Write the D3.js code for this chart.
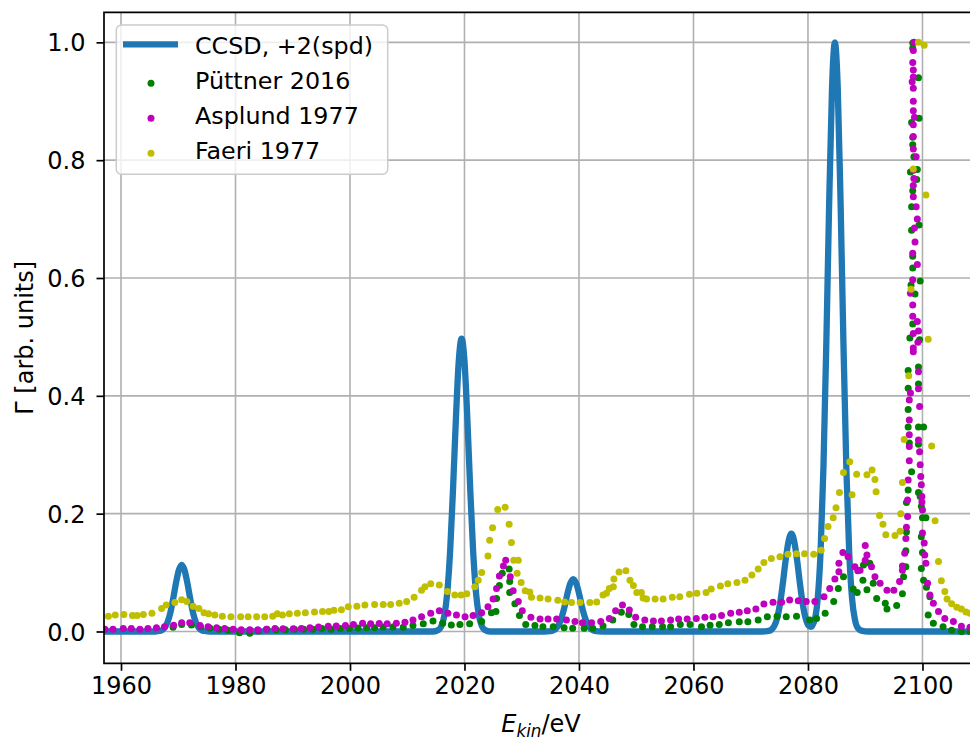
<!DOCTYPE html>
<html>
<head>
<meta charset="utf-8">
<script src="https://cdn.jsdelivr.net/npm/d3@7"></script>
<style>
  body { margin: 0; background: #fff; }
  svg text { font-family: "DejaVu Sans", sans-serif; }
</style>
</head>
<body>
<svg width="970" height="740"></svg>
<script>
// CCSD curve
const ccsdX = [1957, 1966, 1966.6, 1967.1, 1967.6, 1968.1, 1968.6, 1969.1, 1969.6, 1970.1, 1970.6, 1971.1, 1971.6, 1972.1, 1972.6, 1973.1, 1973.6, 1974.1, 1974.6, 1975.5,
  2014.5, 2015.5, 2016, 2016.5, 2017, 2017.5, 2018, 2018.5, 2019, 2019.5, 2020, 2020.5, 2021, 2021.5, 2022, 2022.5, 2023, 2023.5, 2024.5,
  2034, 2035, 2035.5, 2036, 2036.5, 2037, 2037.5, 2038, 2038.5, 2039, 2039.5, 2040, 2040.5, 2041, 2041.5, 2042, 2042.5, 2043, 2044,
  2072, 2073.1, 2073.6, 2074.1, 2074.6, 2075.1, 2075.6, 2076.1, 2076.6, 2077.1, 2077.6, 2078.1, 2078.6, 2079.1, 2079.6, 2080.1, 2080.5,
  2081.2, 2081.7, 2082.2, 2082.7, 2083.2, 2083.7, 2084.2, 2084.7, 2085.2, 2085.7, 2086.2, 2086.7, 2087.2, 2087.7, 2088.2, 2088.7, 2089.5, 2090.5, 2112];
const ccsdY = [0, 0, 0.001, 0.002, 0.006, 0.015, 0.031, 0.055, 0.082, 0.104, 0.113, 0.104, 0.082, 0.055, 0.031, 0.015, 0.006, 0.002, 0.001, 0,
  0, 0.003, 0.010, 0.028, 0.067, 0.138, 0.242, 0.361, 0.459, 0.497, 0.459, 0.361, 0.242, 0.138, 0.067, 0.028, 0.010, 0.003, 0,
  0, 0.0005, 0.002, 0.005, 0.012, 0.025, 0.043, 0.065, 0.082, 0.089, 0.082, 0.065, 0.043, 0.025, 0.012, 0.005, 0.002, 0.0005, 0,
  0, 0.001, 0.003, 0.009, 0.022, 0.046, 0.081, 0.121, 0.153, 0.166, 0.153, 0.121, 0.081, 0.046, 0.022, 0.010, 0.008,
  0.021, 0.056, 0.135, 0.278, 0.487, 0.726, 0.923, 1.0, 0.923, 0.726, 0.487, 0.278, 0.135, 0.056, 0.020, 0.006, 0.001, 0, 0];

const puttner = [[1969.1,0.007],[1970.6,0.012],[1972.3,0.011],[1973.9,0.008],[1975.5,0.006],[1977.1,0.004],[1978.7,0.002],[1980.7,-0.002],[1982.5,-0.003],[1984.0,0.001],
  [1985.5,0.004],[1987.1,0.003],[1988.7,0.003],[1990.3,0.004],[1991.9,0.004],[1993.5,0.004],[1995.1,0.005],[1996.7,0.004],[1998.3,0.005],[1999.9,0.005],
  [2001.4,0.006],[2002.9,0.0065],[2004.3,0.0065],[2005.8,0.0076],[2007.5,0.0076],[2009.3,0.007],[2011.0,0.010],[2012.8,0.013],[2014.5,0.018],[2016.2,0.014],
  [2017.7,0.011],[2019.2,0.012],[2020.9,0.013],[2023.0,0.017],[2024.7,0.032],[2025.5,0.034],[2025.6,0.056],[2026.1,0.078],[2026.6,0.099],[2027.8,0.106],
  [2027.9,0.085],[2027.9,0.066],[2028.8,0.047],[2029.6,0.027],[2030.7,0.012],[2032.3,0.010],[2033.7,0.008],[2035.5,0.008],[2037.4,0.0065],[2038.9,0.0054],
  [2040.9,0.0054],[2042.4,0.0054],[2044.2,0.0093],[2045.9,0.0195],[2047.4,0.0326],[2048.7,0.029],[2049.6,0.012],[2051.1,0.008],[2052.8,0.008],[2054.6,0.008],
  [2056.0,0.008],[2057.7,0.012],[2059.4,0.012],[2061.4,0.008],[2062.9,0.0105],[2064.5,0.012],[2066.1,0.015],[2068.0,0.0167],[2069.5,0.0167],[2071.3,0.0195],
  [2072.9,0.025],[2074.6,0.026],[2076.2,0.025],[2078.0,0.026],[2080.3,0.0195],[2081.5,0.022],[2083.0,0.031],[2084.5,0.051],[2085.3,0.073],[2086.2,0.093],
  [2087.9,0.072],[2088.6,0.066],[2089.6,0.087],[2089.7,0.113],[2090.3,0.071],[2090.8,0.116],[2091.4,0.082],[2092.0,0.056],[2093.5,0.048],[2093.8,0.038],
  [2095.5,0.044],[2096.5,0.064],[2096.7,0.093],[2097.1,0.110],[2097.1,0.137],[2097.2,0.169],[2097.2,0.219],[2097.5,0.240],[2098.1,0.271],[2097.7,0.320],
  [2097.5,0.347],[2097.5,0.377],[2097.5,0.413],[2097.5,0.443],[2097.8,0.498],[2098.3,0.522],[2098.7,0.573],[2098.0,0.588],[2098.3,0.617],[2098.3,0.637],
  [2098.1,0.681],[2098.1,0.721],[2098.3,0.748],[2097.9,0.780],[2098.5,0.806],[2098.3,0.826],[2098.3,0.839],[2098.1,0.864],[2098.3,0.990],[2098.3,0.999],
  [2099.3,0.940],[2099.4,0.871],[2099.1,0.784],[2099.0,0.767],[2099.4,0.690],[2099.6,0.595],[2099.5,0.495],[2099.3,0.449],[2099.3,0.420],[2099.3,0.347],
  [2100.2,0.347],[2099.3,0.318],[2099.3,0.236],[2099.6,0.229],[2099.8,0.212],[2100.0,0.193],[2100.6,0.193],[2099.8,0.161],[2100.0,0.134],[2099.8,0.107],
  [2100.2,0.087],[2100.7,0.075],[2101.3,0.059],[2101.0,0.028],[2101.9,0.014],[2103.6,0.008],[2105.1,0.002],[2106.8,0.0],[2108.3,0.0]];

const asplund = [[1957.2,0.004],[1958.6,0.004],[1960.4,0.005],[1961.8,0.005],[1963.3,0.004],[1964.7,0.005],[1966.2,0.0065],[1967.6,0.008],[1969.2,0.0105],[1970.6,0.015],
  [1972.0,0.015],[1973.8,0.010],[1975.2,0.008],[1976.7,0.0065],[1978.1,0.005],[1979.6,0.004],[1981.0,0.003],[1982.5,0.003],[1983.9,0.003],[1985.4,0.004],
  [1986.9,0.005],[1988.3,0.0045],[1990.1,0.0045],[1991.5,0.005],[1993.0,0.0065],[1994.5,0.0076],[1996.2,0.009],[1997.6,0.0095],[1999.2,0.010],[2000.6,0.012],
  [2002.2,0.014],[2003.6,0.013],[2005.1,0.0135],[2006.5,0.013],[2008.1,0.014],[2009.6,0.0156],[2011.0,0.0195],[2012.5,0.025],[2014.1,0.031],[2015.6,0.035],
  [2017.1,0.031],[2018.6,0.028],[2020.1,0.025],[2021.5,0.027],[2023.0,0.032],[2024.1,0.042],[2025.0,0.055],[2025.6,0.073],[2026.1,0.094],[2026.8,0.111],
  [2027.2,0.121],[2028.0,0.093],[2028.5,0.069],[2029.4,0.051],[2030.1,0.035],[2031.6,0.024],[2033.2,0.021],[2034.6,0.021],[2036.1,0.021],[2037.8,0.0195],
  [2039.3,0.017],[2040.6,0.015],[2042.2,0.015],[2043.8,0.017],[2045.3,0.022],[2046.4,0.035],[2047.6,0.045],[2048.8,0.0365],[2049.9,0.024],[2051.5,0.0195],
  [2053.0,0.018],[2054.4,0.018],[2056.0,0.0195],[2057.4,0.021],[2058.9,0.021],[2060.5,0.022],[2062.0,0.024],[2063.4,0.025],[2064.9,0.027],[2066.5,0.031],
  [2068.0,0.0326],[2069.4,0.035],[2070.9,0.038],[2072.3,0.0467],[2073.9,0.0495],[2075.4,0.0495],[2076.8,0.0535],[2078.3,0.052],[2079.7,0.051],[2081.2,0.051],
  [2082.8,0.059],[2083.8,0.073],[2084.7,0.089],[2085.4,0.1015],[2085.4,0.116],[2086.1,0.134],[2087.0,0.127],[2088.2,0.110],[2088.7,0.103],[2089.1,0.104],
  [2090.0,0.121],[2090.0,0.146],[2090.3,0.130],[2091.1,0.110],[2091.7,0.093],[2092.6,0.082],[2093.8,0.070],[2095.0,0.070],[2096.0,0.085],[2096.5,0.104],
  [2096.5,0.111],[2096.9,0.133],[2097.1,0.158],[2097.2,0.177],[2097.4,0.195],[2097.4,0.223],[2097.5,0.257],[2097.7,0.290],[2097.7,0.314],[2097.7,0.334],
  [2097.7,0.359],[2097.7,0.393],[2097.9,0.405],[2098.4,0.475],[2098.4,0.481],[2099.2,0.491],[2098.4,0.506],[2099.3,0.510],[2099.1,0.526],[2098.3,0.535],
  [2098.3,0.554],[2097.9,0.574],[2098.3,0.597],[2099.1,0.623],[2098.3,0.642],[2098.7,0.661],[2098.6,0.685],[2099.1,0.700],[2098.9,0.721],[2098.4,0.738],
  [2098.4,0.757],[2098.5,0.769],[2098.4,0.783],[2098.9,0.806],[2098.4,0.819],[2098.4,0.840],[2098.4,0.860],[2098.6,0.873],[2098.4,0.884],[2098.4,0.900],
  [2098.4,0.922],[2098.2,0.933],[2098.4,0.941],[2098.4,0.953],[2098.3,0.966],[2098.4,0.986],[2098.5,1.0],[2099.3,0.441],[2099.3,0.412],[2099.5,0.382],
  [2099.3,0.325],[2099.5,0.305],[2099.6,0.283],[2099.7,0.263],[2099.8,0.249],[2099.9,0.229],[2099.9,0.220],[2100.0,0.206],[2100.0,0.167],[2100.3,0.150],
  [2100.4,0.130],[2100.6,0.116],[2100.9,0.082],[2101.3,0.062],[2101.9,0.048],[2102.8,0.034],[2103.9,0.022],[2105.4,0.017],[2106.8,0.009],[2108.3,0.007]];

const faeri = [[1957.8,0.026],[1959.0,0.028],[1960.5,0.029],[1962.0,0.027],[1962.8,0.027],[1963.9,0.029],[1965.4,0.031],[1967.1,0.039],[1967.9,0.045],[1969.4,0.049],
  [1970.6,0.054],[1971.5,0.051],[1972.6,0.043],[1973.6,0.039],[1974.5,0.032],[1975.3,0.030],[1976.4,0.028],[1977.7,0.026],[1979.2,0.025],[1980.9,0.025],
  [1982.2,0.025],[1983.7,0.025],[1985.1,0.025],[1986.5,0.026],[1987.3,0.030],[1988.2,0.028],[1989.4,0.030],[1990.8,0.031],[1992.2,0.032],[1993.8,0.033],
  [1995.2,0.034],[1996.3,0.034],[1997.2,0.036],[1998.5,0.037],[1999.7,0.042],[2001.2,0.043],[2002.6,0.045],[2004.3,0.046],[2005.8,0.046],[2007.1,0.046],
  [2008.6,0.048],[2009.9,0.051],[2011.2,0.058],[2012.5,0.070],[2013.1,0.076],[2014.1,0.081],[2015.6,0.079],[2017.0,0.068],[2018.3,0.062],[2019.4,0.062],
  [2020.4,0.064],[2021.8,0.076],[2022.4,0.087],[2023.0,0.100],[2024.1,0.128],[2024.4,0.155],[2024.9,0.176],[2025.8,0.207],[2027.1,0.211],[2027.8,0.182],
  [2028.2,0.151],[2028.6,0.121],[2029.4,0.121],[2029.2,0.099],[2029.9,0.083],[2030.6,0.069],[2031.4,0.067],[2031.7,0.058],[2033.2,0.057],[2034.6,0.055],
  [2036.3,0.053],[2037.5,0.050],[2038.7,0.049],[2040.2,0.049],[2041.9,0.049],[2043.1,0.050],[2044.2,0.062],[2044.8,0.065],[2045.3,0.073],[2046.0,0.076],
  [2046.1,0.089],[2047.0,0.101],[2048.2,0.103],[2048.9,0.087],[2049.5,0.078],[2050.1,0.066],[2050.9,0.066],[2051.2,0.057],[2051.8,0.055],[2053.3,0.055],
  [2054.7,0.055],[2056.3,0.058],[2057.6,0.059],[2059.3,0.063],[2060.6,0.065],[2062.2,0.066],[2063.1,0.072],[2064.7,0.077],[2066.0,0.081],[2067.6,0.083],
  [2069.0,0.087],[2070.2,0.096],[2071.3,0.106],[2072.3,0.117],[2073.6,0.124],[2075.1,0.127],[2076.5,0.131],[2078.0,0.132],[2079.4,0.132],[2081.0,0.131],
  [2082.3,0.138],[2082.9,0.158],[2083.5,0.178],[2084.4,0.193],[2084.9,0.210],[2085.5,0.236],[2086.2,0.270],[2087.3,0.288],[2087.7,0.232],[2088.5,0.267],
  [2090.3,0.266],[2091.2,0.274],[2091.7,0.258],[2091.9,0.237],[2092.5,0.197],[2093.1,0.182],[2093.6,0.164],[2095.2,0.163],[2096.1,0.170],[2096.2,0.200],
  [2096.5,0.253],[2096.8,0.326],[2097.6,0.434],[2098.0,0.581],[2098.4,0.785],[2099.3,1.0],[2100.3,0.995],[2100.6,0.741],[2101.0,0.496],[2101.6,0.315],
  [2102.2,0.188],[2102.8,0.119],[2103.3,0.086],[2103.9,0.068],[2104.3,0.055],[2105.1,0.047],[2106.0,0.041],[2106.8,0.038],[2107.6,0.033],[2108.3,0.031]];

const xTicks = [1960, 1980, 2000, 2020, 2040, 2060, 2080, 2100];
const yTicks = [0.0, 0.2, 0.4, 0.6, 0.8, 1.0];
const legendLabels = ["CCSD, +2(spd)", "Püttner 2016", "Asplund 1977", "Faeri 1977"];
const colors = ["#1f77b4", "#008000", "#bf00bf", "#bfbf00"];

const svg = d3.select("svg");
const axLeft = 104, axRight = 978, axTop = 12.3, axBottom = 663.3;
const fs = 24;
const legendFs = 23.8;

const x = d3.scaleLinear().domain([1957.03, 2109.7]).range([axLeft, axRight]);
const y = d3.scaleLinear().domain([-0.054, 1.051]).range([axBottom, axTop]);

svg.append("defs").append("clipPath").attr("id", "plotclip")
    .append("rect").attr("x", axLeft).attr("y", axTop)
    .attr("width", axRight - axLeft).attr("height", axBottom - axTop);

// grid
const grid = svg.append("g").attr("stroke", "#b0b0b0").attr("stroke-width", 1.6);
xTicks.forEach(t => {
    grid.append("line").attr("x1", x(t)).attr("x2", x(t)).attr("y1", axTop).attr("y2", axBottom);
});
yTicks.forEach(t => {
    grid.append("line").attr("x1", axLeft).attr("x2", axRight).attr("y1", y(t)).attr("y2", y(t));
});

const plot = svg.append("g").attr("clip-path", "url(#plotclip)");

const line = d3.line()
    .x((d, i) => x(ccsdX[i]))
    .y(d => y(d))
    .curve(d3.curveMonotoneX);

plot.append("path")
    .attr("d", line(ccsdY))
    .attr("fill", "none")
    .attr("stroke", colors[0])
    .attr("stroke-width", 6.3)
    .attr("stroke-linejoin", "round");

[puttner, asplund, faeri].forEach((series, k) => {
    plot.append("g").selectAll("circle")
        .data(series)
        .join("circle")
        .attr("cx", d => x(d[0]))
        .attr("cy", d => y(d[1]))
        .attr("r", 3.5)
        .attr("fill", colors[k + 1]);
});

// axes
const xAxis = d3.axisBottom(x).tickValues(xTicks).tickFormat(d3.format("d"))
    .tickSize(7.5).tickPadding(6);
const yAxis = d3.axisLeft(y).tickValues(yTicks).tickFormat(d3.format(".1f"))
    .tickSize(7.5).tickPadding(11);

const gx = svg.append("g").attr("transform", `translate(0,${axBottom})`).call(xAxis);
const gy = svg.append("g").attr("transform", `translate(${axLeft},0)`).call(yAxis);
[gx, gy].forEach(g => {
    g.select(".domain").remove();
    g.selectAll(".tick line").attr("stroke", "#000").attr("stroke-width", 1.7);
    g.selectAll(".tick text").attr("font-size", fs).attr("fill", "#000")
        .style("font-family", "DejaVu Sans");
});
gy.selectAll(".tick text").attr("dy", "0.36em");

// spines (right one falls outside the picture)
svg.append("path")
    .attr("d", `M${axLeft},${axBottom}V${axTop}H${axRight}M${axLeft},${axBottom}H${axRight}`)
    .attr("fill", "none").attr("stroke", "#000").attr("stroke-width", 1.7)
    .attr("stroke-linecap", "square");

// axis labels
const xl = svg.append("text").attr("x", 541).attr("y", 731.5)
    .attr("text-anchor", "middle").attr("font-size", fs);
xl.append("tspan").attr("font-style", "italic").text("E");
xl.append("tspan").attr("font-style", "italic").attr("font-size", fs * 0.7).attr("dy", 5).text("kin");
xl.append("tspan").attr("dy", -5).text("/eV");

svg.append("text")
    .attr("transform", `translate(33,${(axTop + axBottom) / 2}) rotate(-90)`)
    .attr("text-anchor", "middle").attr("font-size", fs)
    .text("Γ [arb. units]");

// legend
const lg = svg.append("g");
lg.append("rect")
    .attr("x", 116.3).attr("y", 25).attr("width", 271.4).attr("height", 149.3)
    .attr("rx", 5).attr("fill", "#fff").attr("fill-opacity", 0.8)
    .attr("stroke", "#cccccc").attr("stroke-width", 1.5);
legendLabels.forEach((lab, i) => {
    const base = 54.3 + 35 * i;
    const hy = i === 0 ? base - 10 : base - 6;
    if (i === 0) {
        lg.append("line").attr("x1", 123).attr("x2", 178).attr("y1", hy).attr("y2", hy)
            .attr("stroke", colors[0]).attr("stroke-width", 6.3);
    } else {
        lg.append("circle").attr("cx", 151).attr("cy", hy).attr("r", 3.5).attr("fill", colors[i]);
    }
    lg.append("text").attr("x", 195).attr("y", base).attr("font-size", legendFs).text(lab);
});
</script>
</body>
</html>
